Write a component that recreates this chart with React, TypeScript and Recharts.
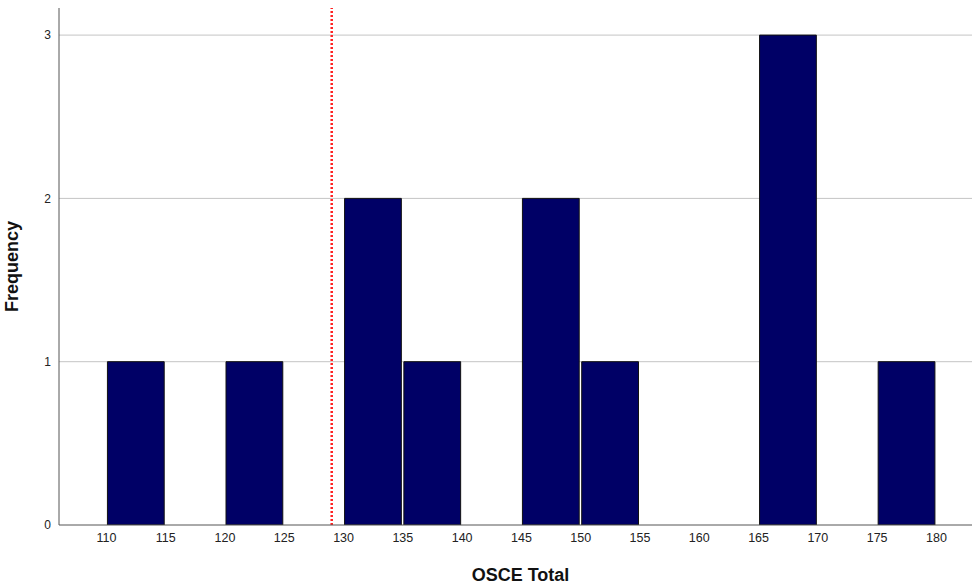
import React from 'react'
import { ComposedChart, Bar, XAxis, YAxis, CartesianGrid, ReferenceLine, Label } from 'recharts'

// histogram bins (midpoints) and their counts
const binMids = [112.5, 117.5, 122.5, 127.5, 132.5, 137.5, 142.5, 147.5, 152.5, 157.5, 162.5, 167.5, 172.5, 177.5]
const counts = [1, 0, 1, 0, 2, 1, 0, 2, 1, 0, 0, 3, 0, 1]
const xTicks = [110, 115, 120, 125, 130, 135, 140, 145, 150, 155, 160, 165, 170, 175, 180]
const yTicks = [0, 1, 2, 3]
const gridValues = [1, 2, 3]
const cutScore = 129

const data = binMids.map((mid, i) => ({ mid, count: counts[i] }))

const W = 972
const H = 586
const X_DOMAIN: [number, number] = [106, 183]
const Y_MAX = 3.166
const PLOT_W = W - 59
const BAR_PX = (PLOT_W / (X_DOMAIN[1] - X_DOMAIN[0])) * 5 - 2.5

const font = '"Liberation Sans", Arial, sans-serif'

export default function App() {
  return (
    <div style={{ position: 'absolute', left: 0, top: 0, fontFamily: font }}>
      <ComposedChart width={W} height={H} data={data} margin={{ top: 8, right: 0, left: 0, bottom: 0 }}>
        <CartesianGrid vertical={false} horizontalValues={gridValues} stroke="#c4c4c4" />
        <XAxis
          dataKey="mid"
          type="number"
          domain={X_DOMAIN}
          ticks={xTicks}
          height={61}
          tickLine={false}
          stroke="#555"
          tick={{ fill: '#222', fontSize: 12.5, fontFamily: font }}
        >
          <Label value="OSCE Total" position="insideBottom" offset={5} dx={5} style={{ fontWeight: 'bold', fontSize: 18, fill: '#111', fontFamily: font }} />
        </XAxis>
        <YAxis
          type="number"
          domain={[0, Y_MAX]}
          ticks={yTicks}
          width={59}
          tickLine={false}
          stroke="#555"
          allowDataOverflow
          tick={{ fill: '#222', fontSize: 12, fontFamily: font }}
        >
          <Label value="Frequency" angle={-90} position="insideLeft" offset={12} style={{ fontWeight: 'bold', fontSize: 18, fill: '#111', fontFamily: font, textAnchor: 'middle' }} />
        </YAxis>
        <Bar dataKey="count" fill="#000066" stroke="#111" strokeWidth={1} barSize={BAR_PX} isAnimationActive={false} />
        <ReferenceLine x={cutScore} stroke="#ff2020" strokeWidth={2.5} strokeDasharray="2 2" />
      </ComposedChart>
    </div>
  )
}
